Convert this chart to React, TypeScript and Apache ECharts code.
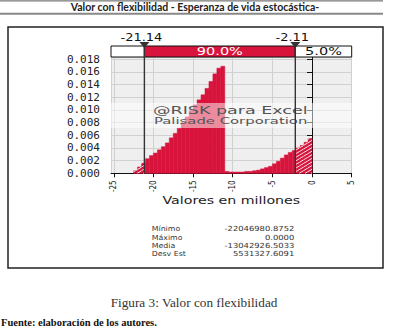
import React, { useEffect, useRef } from "react";
import * as echarts from "echarts";

// ---- data ----
const TITLE = "Valor con flexibilidad - Esperanza de vida estocástica-";
const X_AXIS_NAME = "Valores en millones";
const BIN_LOWER = [
  -22.5, -22, -21.5, -21, -20.5, -20, -19.5, -19, -18.5, -18, -17.5, -17,
  -16.5, -16, -15.5, -15, -14.5, -14, -13.5, -13, -12.5, -12, -11.5, -11,
  -10.5, -10, -9.5, -9, -8.5, -8, -7.5, -7, -6.5, -6, -5.5, -5, -4.5, -4,
  -3.5, -3, -2.5, -2, -1.5, -1, -0.5,
];
const BIN_WIDTH = 0.5;
const DENSITY = [
  0.0004, 0.001, 0.0016, 0.0023, 0.0028, 0.0032, 0.0037, 0.0042, 0.0048,
  0.0056, 0.0063, 0.0071, 0.008, 0.0089, 0.0099, 0.0108, 0.0116, 0.0124,
  0.0134, 0.0145, 0.0157, 0.0166, 0.0169, 0.0003, 0.0002, 0.0002, 0.0002,
  0.0002, 0.0003, 0.0003, 0.0004, 0.0005, 0.0007, 0.0009, 0.0011, 0.0015,
  0.0019, 0.0024, 0.0029, 0.0033, 0.0036, 0.004, 0.0044, 0.0049, 0.0055,
];
const LOWER_CUT = -21.14;
const UPPER_CUT = -2.11;
const LOWER_LABEL = "-21.14";
const UPPER_LABEL = "-2.11";
const MID_PCT = "90.0%";
const RIGHT_PCT = "5.0%";
const STAT_NAMES = ["Mínimo", "Máximo", "Media", "Desv Est"];
const STAT_VALUES = ["-22046980.8752", "0.0000", "-13042926.5033", "5531327.6091"];
const CAPTION = "Figura 3: Valor con flexibilidad";
const SOURCE = "Fuente: elaboración de los autores.";
const WATERMARK = ["@RISK para Excel", "Palisade Corporation"];

// ---- axis settings ----
const X_MIN = -25.35;
const X_MAX = 5;
const Y_MAX = 0.018363;
const Y_STEP = 0.002;

const RED = "#d8143c";

export default function App() {
  const ref = useRef<HTMLDivElement>(null);
  useEffect(() => {
    if (!ref.current) return;
    const chart = echarts.init(ref.current, null, { renderer: "svg" });
    const data = BIN_LOWER.map((lo, i) => [lo, lo + BIN_WIDTH, DENSITY[i]]);
    chart.setOption({
      animation: false,
      backgroundColor: "#fff",
      textStyle: { fontFamily: "DejaVu Sans" },
      grid: {
        left: 111,
        top: 57,
        right: 41.3,
        bottom: 160.7,
        show: true,
        backgroundColor: "#efefef",
        borderWidth: 0,
        containLabel: false,
        outerBoundsMode: "none",
      },
      xAxis: {
        type: "value",
        min: X_MIN,
        max: X_MAX,
        splitNumber: 6,
        axisLine: { show: true, onZero: false, lineStyle: { color: "#111", width: 1 } },
        axisTick: { show: true, length: 4, lineStyle: { color: "#111" } },
        axisLabel: {
          rotate: 90,
          margin: 7,
          showMinLabel: false,
          showMaxLabel: true,
          fontSize: 8,
          fontFamily: "'Liberation Sans Narrow', 'DejaVu Sans Condensed', 'DejaVu Sans'",
          color: "#222",
        },
        splitLine: { show: true, lineStyle: { color: "#d0d0d0", width: 1 } },
      },
      yAxis: {
        type: "value",
        min: 0,
        max: Y_MAX,
        interval: Y_STEP,
        axisLine: { show: true, lineStyle: { color: "#111", width: 1 } },
        axisTick: { show: true, length: 5, lineStyle: { color: "#111" } },
        axisLabel: {
          margin: 11,
          showMaxLabel: false,
          formatter: (v: number) => v.toFixed(3),
          fontSize: 11,
          fontFamily: "'DejaVu Sans Mono'",
          color: "#222",
        },
        splitLine: { show: true, lineStyle: { color: "#d0d0d0", width: 1 } },
      },
      series: [
        {
          type: "custom",
          data,
          encode: { x: [0, 1], y: 2 },
          renderItem: (params: any, api: any) => {
            const lo = api.value(0);
            const hi = api.value(1);
            const h = api.value(2);
            const tl = api.coord([lo, h]);
            const br = api.coord([hi, 0]);
            const x0 = tl[0], x1 = br[0], yt = tl[1], yb = br[1];
            const children: any[] = [
              {
                type: "rect",
                shape: { x: x0, y: yt, width: x1 - x0, height: yb - yt },
                style: { fill: RED, stroke: RED, lineWidth: 0.5 },
              },
            ];
            const cutL = api.coord([LOWER_CUT, 0])[0];
            const cutR = api.coord([UPPER_CUT, 0])[0];
            const spans = [
              [x0, Math.min(x1, cutL)],
              [Math.max(x0, cutR), x1],
            ];
            const k = 0.6;
            const s = 3.6;
            for (const [a, b] of spans) {
              if (b - a < 0.3) continue;
              const nStart = Math.ceil((yt + k * a) / s);
              const nEnd = Math.floor((yb + k * b) / s);
              for (let n = nStart; n <= nEnd; n++) {
                const c = n * s;
                const xa = Math.max(a, (c - yb) / k);
                const xb = Math.min(b, (c - yt) / k);
                if (xb - xa > 0.2) {
                  children.push({
                    type: "line",
                    shape: { x1: xa, y1: c - k * xa, x2: xb, y2: c - k * xb },
                    style: { stroke: "#fff", lineWidth: 0.9 },
                  });
                }
              }
            }
            return { type: "group", children };
          },
        },
      ],
    });

    const px = (v: number) => chart.convertToPixel({ xAxisIndex: 0 }, v) as number;
    const py = (v: number) => chart.convertToPixel({ yAxisIndex: 0 }, v) as number;
    const gl = px(X_MIN);
    const gr = px(X_MAX);
    const gt = py(Y_MAX);
    const gb = py(0);
    const xl = px(LOWER_CUT);
    const xr = px(UPPER_CUT);
    const barH = 11;
    const wideFont = "DejaVu Sans";

    const graphic: any[] = [
      // title rules
      { type: "line", z: 20, shape: { x1: 0, y1: 0.8, x2: 383, y2: 0.8 }, style: { stroke: "#777", lineWidth: 1.2 } },
      { type: "line", z: 20, shape: { x1: 0, y1: 13.8, x2: 383, y2: 13.8 }, style: { stroke: "#888", lineWidth: 2 } },
      {
        type: "text", z: 20, x: 195, y: 7.4,
        style: { text: TITLE, align: "center", verticalAlign: "middle", fontFamily: "Lato", fontWeight: "bold", fontSize: 10.5, fill: "#222" },
      },
      // outer box
      { type: "rect", z: 20, shape: { x: 8, y: 27, width: 375, height: 241 }, style: { fill: "none", stroke: "#222", lineWidth: 1.5 } },
      // header bar
      { type: "rect", z: 15, shape: { x: gl, y: gt - barH, width: xl - gl, height: barH }, style: { fill: "#fff", stroke: "#111", lineWidth: 1 } },
      { type: "rect", z: 15, shape: { x: xl, y: gt - barH, width: xr - xl, height: barH }, style: { fill: RED, stroke: "#111", lineWidth: 1 } },
      { type: "rect", z: 15, shape: { x: xr, y: gt - barH, width: gr - xr, height: barH }, style: { fill: "#fff", stroke: "#111", lineWidth: 1 } },
      {
        type: "text", z: 16, x: (xl + xr) / 2, y: gt - barH / 2, scaleX: 1.45,
        style: { text: MID_PCT, align: "center", verticalAlign: "middle", fontFamily: wideFont, fontSize: 10, fill: "#fff" },
      },
      {
        type: "text", z: 16, x: (xr + gr) / 2, y: gt - barH / 2, scaleX: 1.45,
        style: { text: RIGHT_PCT, align: "center", verticalAlign: "middle", fontFamily: wideFont, fontSize: 10, fill: "#111" },
      },
      // watermark band
      { type: "rect", z: 10, shape: { x: gl, y: 103, width: gr - gl, height: 25 }, style: { fill: "rgba(255,255,255,0.5)" } },
      {
        type: "text", z: 11, x: 153, y: 110.5, scaleX: 1.75,
        style: { text: WATERMARK[0], align: "left", verticalAlign: "middle", fontFamily: wideFont, fontSize: 10, fill: "#555" },
      },
      {
        type: "text", z: 11, x: 154, y: 121, scaleX: 1.65,
        style: { text: WATERMARK[1], align: "left", verticalAlign: "middle", fontFamily: wideFont, fontSize: 9, fill: "#555" },
      },
      // axis name
      {
        type: "text", z: 11, x: (gl + gr) / 2, y: 201, scaleX: 1.42,
        style: { text: X_AXIS_NAME, align: "center", verticalAlign: "middle", fontFamily: wideFont, fontSize: 10, fill: "#222" },
      },
    ];
    [
      [xl, LOWER_LABEL],
      [xr, UPPER_LABEL],
    ].forEach(([x, label]: any) => {
      graphic.push(
        { type: "line", z: 17, shape: { x1: x, y1: gt - barH, x2: x, y2: gb }, style: { stroke: "#333", lineWidth: 1.4 } },
        { type: "polygon", z: 18, shape: { points: [[x - 5, gt - 15], [x + 5, gt - 15], [x, gt - 9]] }, style: { fill: "#333" } },
        {
          type: "text", z: 18, x: x - 3, y: 37.5, scaleX: 1.3,
          style: { text: label, align: "center", verticalAlign: "middle", fontFamily: wideFont, fontSize: 10, fill: "#111" },
        }
      );
    });
    const rowY = [229, 237.3, 245.7, 254];
    STAT_NAMES.forEach((n, i) => {
      graphic.push(
        {
          type: "text", z: 20, x: 151.7, y: rowY[i], scaleX: 1.12,
          style: { text: n, align: "left", verticalAlign: "middle", fontFamily: "DejaVu Sans", fontSize: 7, lineHeight: 7, fill: "#333" },
        },
        {
          type: "text", z: 20, x: 294.3, y: rowY[i], scaleX: 1.2,
          style: { text: STAT_VALUES[i], align: "right", verticalAlign: "middle", fontFamily: "DejaVu Sans", fontSize: 7, lineHeight: 7, fill: "#333" },
        }
      );
    });
    graphic.push(
      {
        type: "text", z: 20, x: 194, y: 303, scaleX: 1.06,
        style: { text: CAPTION, align: "center", verticalAlign: "middle", fontFamily: "Liberation Serif", fontSize: 12.5, fill: "#333" },
      },
      {
        type: "text", z: 20, x: 1, y: 322.5,
        style: { text: SOURCE, align: "left", verticalAlign: "middle", fontFamily: "Liberation Serif", fontWeight: "bold", fontSize: 10.5, fill: "#111" },
      }
    );
    chart.setOption({ graphic });
    return () => chart.dispose();
  }, []);
  return (
    <div
      ref={ref}
      style={{ position: "absolute", left: 0, top: 0, width: 393, height: 334, background: "#fff" }}
    />
  );
}
